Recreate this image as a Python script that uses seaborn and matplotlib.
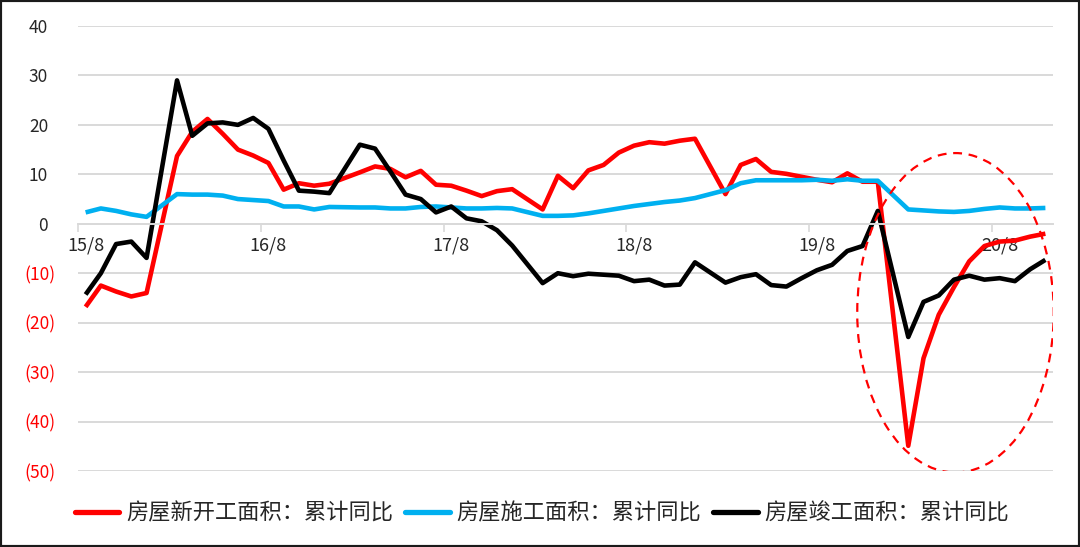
import numpy as np
import pandas as pd
import matplotlib
matplotlib.use("Agg")
import matplotlib.pyplot as plt
import matplotlib.transforms as mtransforms
from matplotlib.patches import Ellipse, Rectangle
from matplotlib.lines import Line2D
import seaborn as sns

nan = np.nan

# ---- categories: monthly from 15/8 to 20/11 (January not published -> NaN) ----
months = [f"{y}/{m}" for y in range(15, 21) for m in range(1, 13)
          if (y, m) >= (15, 8) and (y, m) <= (20, 11)]
tick_labels = ["15/8", "16/8", "17/8", "18/8", "19/8", "20/8"]

# ---- series values (cumulative YoY, %) ----
new_starts = [
    -16.8, -12.5, -13.7, -14.7, -14.0,
    nan, 13.7, 18.6, 21.2, 18.2, 15.0, 13.8, 12.3, 6.9, 8.2, 7.7, 8.1,
    nan, 10.4, 11.6, 11.1, 9.4, 10.7, 7.9, 7.7, 6.7, 5.6, 6.6, 7.0,
    nan, 2.9, 9.7, 7.2, 10.8, 11.9, 14.4, 15.8, 16.5, 16.2, 16.8, 17.2,
    nan, 6.0, 11.9, 13.1, 10.5, 10.1, 9.5, 8.9, 8.4, 10.2, 8.5, 8.5,
    nan, -44.9, -27.2, -18.4, -12.8, -7.6, -4.5, -3.6, -3.4, -2.6, -2.0,
]
under_construction = [
    2.3, 3.1, 2.6, 1.9, 1.4,
    nan, 6.0, 5.9, 5.9, 5.7, 5.0, 4.8, 4.6, 3.5, 3.5, 2.9, 3.4,
    nan, 3.3, 3.3, 3.1, 3.1, 3.4, 3.5, 3.3, 3.1, 3.1, 3.2, 3.1,
    nan, 1.6, 1.6, 1.7, 2.1, 2.6, 3.1, 3.6, 4.0, 4.4, 4.7, 5.2,
    nan, 6.8, 8.2, 8.8, 8.8, 8.8, 8.8, 8.9, 8.7, 9.0, 8.7, 8.7,
    nan, 2.9, 2.7, 2.5, 2.4, 2.6, 3.0, 3.3, 3.1, 3.1, 3.2,
]
completed = [
    -14.3, -10.0, -4.1, -3.6, -6.9,
    nan, 29.0, 17.8, 20.3, 20.5, 20.0, 21.4, 19.2, 12.8, 6.7, 6.5, 6.2,
    nan, 16.0, 15.2, 10.6, 5.9, 5.0, 2.3, 3.5, 1.1, 0.5, -1.3, -4.4,
    nan, -12.0, -10.0, -10.6, -10.1, -10.3, -10.5, -11.6, -11.3, -12.5, -12.3, -7.8,
    nan, -11.9, -10.8, -10.2, -12.4, -12.7, -11.0, -9.4, -8.3, -5.5, -4.5, 2.6,
    nan, -22.9, -15.8, -14.5, -11.3, -10.5, -11.3, -11.0, -11.6, -9.2, -7.3,
]

series_names = ["房屋新开工面积：累计同比", "房屋施工面积：累计同比", "房屋竣工面积：累计同比"]
series_colors = ["#FF0000", "#00B0F0", "#000000"]
yticks = [-50, -40, -30, -20, -10, 0, 10, 20, 30, 40]

# ---- long-form table ----
rows = []
for name, vals in zip(series_names, [new_starts, under_construction, completed]):
    for i, (m, v) in enumerate(zip(months, vals)):
        rows.append({"pos": i, "month": m, "value": v, "series": name})
df = pd.DataFrame(rows).dropna(subset=["value"])

sns.set_theme(style="white")
plt.rcParams["font.family"] = ["Noto Sans CJK SC", "DejaVu Sans"]

W, H = 1080, 547
fig = plt.figure(figsize=(W / 100, H / 100), dpi=100)
ax = fig.add_axes([78 / W, 1 - 471 / H, (1053 - 78) / W, (471 - 26) / H])

sns.lineplot(data=df, x="pos", y="value", hue="series", hue_order=series_names,
             palette=series_colors, estimator=None, sort=True, linewidth=3.3,
             legend=False, ax=ax)
for ln in ax.lines:
    ln.set_solid_joinstyle("round")
    ln.set_solid_capstyle("butt")

ax.set_xlim(-0.5, len(months) - 0.5)
ax.set_ylim(-50, 40)

# grid
grid_c = "#D9D9D9"
ax.set_yticks(yticks)
ax.yaxis.grid(True, color=grid_c, linewidth=1.4)
ax.xaxis.grid(False)
for s in ["top", "right", "left"]:
    ax.spines[s].set_visible(False)
ax.spines["bottom"].set_position(("data", 0))
ax.spines["bottom"].set_color(grid_c)
ax.spines["bottom"].set_linewidth(1.4)
ax.set_axisbelow(True)

# y tick labels
ylabels = [f"({abs(v)})" if v < 0 else f"{v}" for v in yticks]
ax.set_yticklabels(ylabels)
ax.tick_params(axis="y", length=0, pad=16.5, labelsize=12.5)
for tick, v in zip(ax.yaxis.get_major_ticks(), yticks):
    tick.label1.set_color("#FF0000" if v < 0 else "#262626")
    if v >= 0:
        tick.label1.set_transform(tick.label1.get_transform() +
                                  mtransforms.ScaledTranslation(-7 / 100, 0, fig.dpi_scale_trans))

# x ticks: marks between categories every 12 months, labels on category
label_pos = [months.index(t) for t in tick_labels]
ax.set_xticks([p - 0.5 for p in label_pos])
ax.set_xticklabels([""] * len(label_pos))
ax.set_xticks(label_pos, minor=True)
ax.set_xticklabels(tick_labels, minor=True)
ax.tick_params(axis="x", which="major", length=6, width=1.2, color=grid_c, direction="out", bottom=True)
ax.tick_params(axis="x", which="minor", length=0, pad=9, labelsize=13, labelcolor="#262626", bottom=True)
ax.set_xlabel("")
ax.set_ylabel("")

# dashed ellipse highlighting 2020
ell = Ellipse((57.1, -18.0), width=12.9, height=64.6, fill=False,
              edgecolor="#FF0000", linestyle=(0, (4, 3)), linewidth=1.6, zorder=5)
ax.add_patch(ell)

# legend
handles = [Line2D([0], [0], color=c, linewidth=3.8) for c in series_colors]
fig.legend(handles, series_names, loc="center", bbox_to_anchor=(542 / W, 1 - 513 / H),
           ncol=3, frameon=False, fontsize=16, handlelength=2.0, handletextpad=0.3,
           columnspacing=0.55, labelcolor="#262626")

# outer frame
fig.patches.append(Rectangle((0, 0), 1, 1, transform=fig.transFigure, fill=False,
                             edgecolor="#1A1A1A", linewidth=3, zorder=10))

fig.savefig("out.png", dpi=100)
